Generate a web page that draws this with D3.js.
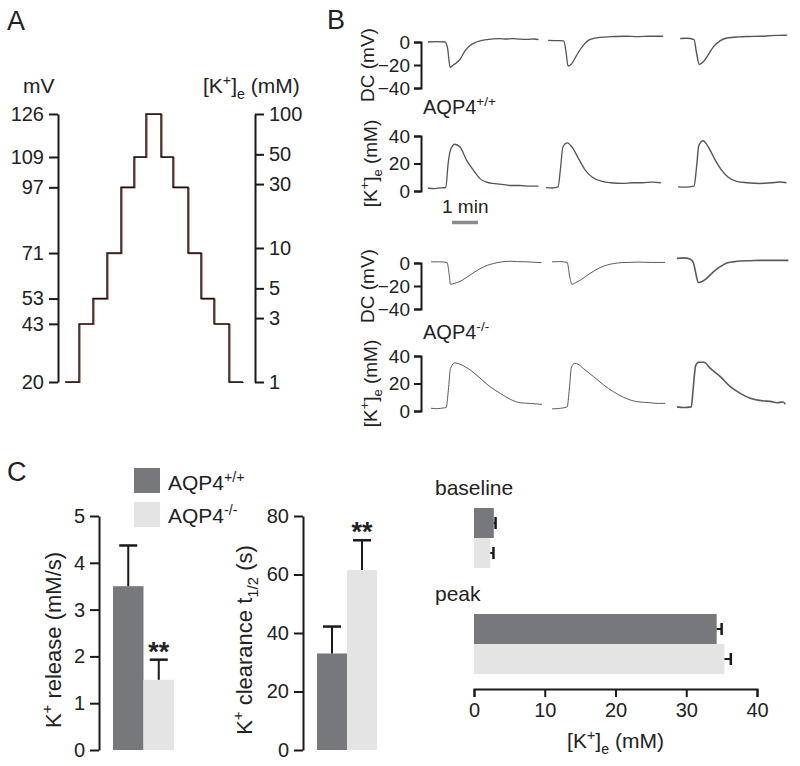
<!DOCTYPE html>
<html><head><meta charset="utf-8">
<script src="https://cdn.jsdelivr.net/npm/d3@7"></script>
<style>
body{margin:0;background:#fff}
text{font-family:"Liberation Sans",Arial,sans-serif;fill:#222}
</style>
</head><body><svg id="c" width="800" height="766"></svg>
<script>
// ---------- DATA ----------
// Panel A
const mvTicks = [20, 43, 53, 71, 97, 109, 126];
const kLogTicks = [1, 3, 5, 10, 30, 50, 100];
const stepTimes = [0, 14, 28, 42, 56, 69, 81, 96, 108, 123, 136, 149, 164, 178];
const stepMV = [20, 43, 53, 71, 97, 109, 126, 109, 97, 71, 53, 43, 20];

// Panel B (time in s, value)
const dcTicks = [0, -20, -40];
const kTicksB = [0, 20, 40];
const wtDC = [
  [[0,0],[20,0.3],[39,0],[45,-5],[51,-22],[58,-20],[66,-18],[74,-15],[85,-8],[97,-3],[112,0],[125,1.5],[135,2],[150,2.8],[166,3],[180,2.6],[195,3],[212,2.5],[230,2.3],[245,2.6],[255,2]],
  [[5,1.5],[25,1.2],[41,1],[46,-8],[51,-21],[59,-19],[70,-12],[86,-3],[101,2],[124,4],[150,4.6],[186,5],[210,4.7],[240,5],[270,5]],
  [[5,3],[20,3.2],[37,2],[43,-10],[49,-19.5],[59,-17],[70,-11],[82,-4],[97,1],[113,3.5],[140,4.5],[165,4.8],[190,5],[215,5.5],[235,5.8],[252,6]]
];
const wtK = [
  [[0,2],[15,1.8],[30,2.3],[41,2.5],[46.5,20],[52,30],[62,34],[74,32],[89,22.5],[105,15],[120,9],[135,6.5],[150,5.5],[166,5],[190,4],[212,4],[235,3.5],[255,3.5]],
  [[0,2.5],[15,2.2],[28,3],[33,15],[39,32],[49,35],[60,32],[76,23],[91,15],[107,10],[130,7],[150,6],[177,5.5],[200,6],[223,6],[245,6.5],[265,6]],
  [[0,3],[18,2.8],[37,3.5],[43,18],[48,33],[58,36.5],[70,32],[85,23],[101,15],[116,10],[135,7],[160,6],[189,5.5],[215,6],[235,6.5],[250,6]]
];
const koDC = [
  [[0,1],[20,1],[37,0.5],[42,-10],[45,-18.5],[55,-17.5],[67,-16],[78,-13.5],[90,-10.5],[113,-5],[130,-2],[144,-0.5],[160,0.8],[182,1.5],[200,1.2],[221,1],[240,0.6],[255,0.3]],
  [[0,1],[18,1.2],[35,0.5],[41,-12],[46,-18.5],[55,-17],[65,-15],[88,-9],[111,-4],[125,-2],[142,-0.5],[160,0.3],[173,0.5],[200,0.8],[230,0.5],[261,0.5]],
  [[0,4],[15,4.5],[26,4],[32,3],[38,0],[44,-10],[49,-17],[55,-16.5],[68,-13.5],[84,-7.7],[99,-3.4],[115,0],[130,1],[146,1.7],[170,2],[192,2.3],[225,2.3],[257,2.3]]
];
const koK = [
  [[0,2],[15,1.7],[28,2.2],[35,2.5],[40,15],[45,31],[55,35],[67,34],[80,32],[90,30],[113,24],[136,17.7],[160,12.8],[183,8.5],[206,6],[230,5.5],[256,4.8]],
  [[0,1.5],[15,1.8],[35,3],[40,16],[45,32],[53,34.7],[60,34],[72,31],[96,25],[119,19],[142,14],[165,10],[196,6.8],[227,6],[245,5.5],[261,5.6]],
  [[0,3],[15,2.5],[33,3],[37,15],[43,33],[50,35.5],[62,35.5],[77,31],[100,25],[123,17.7],[146,12.8],[169,9.2],[200,7.3],[215,7],[231,6],[245,6.5],[250,4.8]]
];

// Panel C
const genotypes = ["AQP4+/+", "AQP4-/-"];
const releaseMean = [3.5, 1.5];
const releaseErr = [0.87, 0.43];
const clearMean = [33, 61.5];
const clearErr = [9.2, 10.2];
const sigMarks = ["", "**"];
const releaseTicks = [0, 1, 2, 3, 4, 5];
const clearTicks = [0, 20, 40, 60, 80];
const concGroups = ["baseline", "peak"];
const baselineMean = [2.8, 2.3];
const baselineErr = [0.25, 0.45];
const peakMean = [34.3, 35.4];
const peakErr = [0.7, 0.9];
const concTicks = [0, 10, 20, 30, 40];

// ---------- HELPERS ----------
const svg = d3.select("#c");
svg.append("rect").attr("width", 800).attr("height", 766).attr("fill", "#fff");
const DARK = "#77787c", LIGHT = "#e4e4e4", INK = "#1a1a1a";

function rich(sel, parts, fs) {
  let cur = 0;
  parts.forEach(p => {
    const ts = sel.append("tspan").text(p[0]);
    let target = 0;
    if (p[1] === "sup") { ts.attr("font-size", fs * 0.68); target = -fs * 0.4; }
    else if (p[1] === "sub") { ts.attr("font-size", fs * 0.68); target = fs * 0.28; }
    if (target - cur !== 0) ts.attr("dy", target - cur);
    cur = target;
  });
  return sel;
}
function styleAxis(g, fs) {
  g.attr("font-size", null).attr("font-family", null);
  g.selectAll("path.domain").attr("stroke", INK).attr("stroke-width", 2);
  g.selectAll(".tick line").attr("stroke", INK).attr("stroke-width", 2);
  g.selectAll(".tick text").attr("font-size", fs).attr("fill", "#222");
}
function genoParts(g) { return [["AQP4"], [g.slice(4), "sup"]]; }
const fmtInt = d3.format("d");

// ---------- PANEL A ----------
svg.append("text").attr("x", 7).attr("y", 30).attr("font-size", 27).text("A");
const yA = d3.scaleLinear().domain([20, 126]).range([382, 114]);
const yAk = d3.scaleLog().domain([1, 100]).range([382, 114]);
const xA = d3.scaleLinear().domain([0, 178]).range([65, 243]);

const gAL = svg.append("g").attr("transform", "translate(58,0)")
  .call(d3.axisLeft(yA).tickValues(mvTicks).tickFormat(fmtInt).tickSize(9).tickSizeOuter(0).tickPadding(5));
styleAxis(gAL, 20);
const gAR = svg.append("g").attr("transform", "translate(255,0)")
  .call(d3.axisRight(yAk).tickValues(kLogTicks).tickFormat(fmtInt).tickSize(9).tickSizeOuter(0).tickPadding(5));
styleAxis(gAR, 20);
svg.append("text").attr("x", 23).attr("y", 93).attr("font-size", 21).text("mV");
rich(svg.append("text").attr("x", 203).attr("y", 93).attr("font-size", 21),
  [["[K"], ["+", "sup"], ["]"], ["e", "sub"], [" (mM)"]], 21);

const stepPts = stepTimes.map((t, i) => [t, stepMV[Math.min(i, stepMV.length - 1)]]);
const stepLine = d3.line().x(d => xA(d[0])).y(d => yA(d[1])).curve(d3.curveStepAfter);
svg.append("path").datum(stepPts).attr("d", stepLine).attr("fill", "none")
  .attr("stroke", "#b4503a").attr("stroke-width", 1.2).attr("transform", "translate(1,0.5)");
svg.append("path").datum(stepPts).attr("d", stepLine).attr("fill", "none")
  .attr("stroke", "#111").attr("stroke-width", 1.4);

// ---------- PANEL B ----------
svg.append("text").attr("x", 327).attr("y", 29).attr("font-size", 27).text("B");
const rows = [
  { data: wtDC, ticks: dcTicks, dom: [-40, 0], rng: [88, 42], origins: [428, 546, 678], label: "dc", w: [1.3, 1.3, 1.4], col: "#555" },
  { data: wtK, ticks: kTicksB, dom: [0, 40], rng: [191, 136], origins: [428, 546, 678], label: "k", w: [1.3, 1.3, 1.4], col: "#555" },
  { data: koDC, ticks: dcTicks, dom: [-40, 0], rng: [309, 263], origins: [431, 552, 677], label: "dc", w: [1, 1, 1.6], col: "#5a5a5a" },
  { data: koK, ticks: kTicksB, dom: [0, 40], rng: [411, 356], origins: [431, 552, 677], label: "k", w: [1, 1, 1.6], col: "#5a5a5a" }
];
rows.forEach(r => {
  const y = d3.scaleLinear().domain(r.dom).range(r.rng);
  const g = svg.append("g").attr("transform", "translate(421,0)")
    .call(d3.axisLeft(y).tickValues(r.ticks).tickFormat(fmtInt).tickSize(7).tickSizeOuter(7).tickPadding(4));
  styleAxis(g, 19);
  r.data.forEach((tr, i) => {
    const x = d3.scaleLinear().domain([0, 60]).range([r.origins[i], r.origins[i] + 26]);
    svg.append("path").datum(tr)
      .attr("d", d3.line().x(d => x(d[0])).y(d => y(d[1])).curve(d3.curveMonotoneX))
      .attr("fill", "none").attr("stroke", r.col).attr("stroke-width", r.w[i]).attr("stroke-linejoin", "round");
  });
  const cy = (r.rng[0] + r.rng[1]) / 2;
  const t = svg.append("text").attr("text-anchor", "middle").attr("font-size", 19)
    .attr("transform", `translate(${r.label === "dc" ? 374 : 377},${cy}) rotate(-90)`);
  if (r.label === "dc") t.text("DC (mV)");
  else rich(t, [["[K"], ["+", "sup"], ["]"], ["e", "sub"], [" (mM)"]], 19);
});
rich(svg.append("text").attr("x", 423).attr("y", 114).attr("font-size", 20), genoParts(genotypes[0]), 20);
rich(svg.append("text").attr("x", 423).attr("y", 339).attr("font-size", 20), genoParts(genotypes[1]), 20);
// scale bar 1 min
const xBar = d3.scaleLinear().domain([0, 60]).range([452, 478]);
svg.append("line").attr("x1", xBar(0)).attr("x2", xBar(60)).attr("y1", 222.5).attr("y2", 222.5)
  .attr("stroke", "#8a8a8a").attr("stroke-width", 3.5);
svg.append("text").attr("x", 442).attr("y", 213).attr("font-size", 19).text("1 min");

// ---------- PANEL C ----------
svg.append("text").attr("x", 7).attr("y", 481).attr("font-size", 27).text("C");
// legend
genotypes.forEach((g, i) => {
  svg.append("rect").attr("x", 134).attr("y", 468 + i * 34).attr("width", 26).attr("height", 25)
    .attr("fill", i === 0 ? DARK : LIGHT);
  rich(svg.append("text").attr("x", 168).attr("y", 490 + i * 33).attr("font-size", 21), genoParts(g), 21);
});

function vertBars(axisX, range, domain, ticks, means, errs, label, labelX) {
  const y = d3.scaleLinear().domain(domain).range([750, 516]);
  const x = d3.scaleBand().domain(genotypes).range(range).padding(0);
  const g = svg.append("g").attr("transform", `translate(${axisX},0)`)
    .call(d3.axisLeft(y).tickValues(ticks).tickFormat(fmtInt).tickSize(9).tickSizeOuter(0).tickPadding(5));
  styleAxis(g, 20);
  genotypes.forEach((gn, i) => {
    const cx = x(gn) + x.bandwidth() / 2;
    svg.append("rect").attr("x", x(gn)).attr("y", y(means[i])).attr("width", x.bandwidth())
      .attr("height", y(0) - y(means[i])).attr("fill", i === 0 ? DARK : LIGHT);
    svg.append("line").attr("x1", cx).attr("x2", cx).attr("y1", y(means[i])).attr("y2", y(means[i] + errs[i]))
      .attr("stroke", INK).attr("stroke-width", 2);
    svg.append("line").attr("x1", cx - 9).attr("x2", cx + 9).attr("y1", y(means[i] + errs[i])).attr("y2", y(means[i] + errs[i]))
      .attr("stroke", INK).attr("stroke-width", 2.5);
    if (sigMarks[i]) svg.append("text").attr("x", cx).attr("y", y(means[i] + errs[i]) + 1)
      .attr("text-anchor", "middle").attr("font-size", 27).attr("font-weight", "bold").text(sigMarks[i]);
  });
  const t = svg.append("text").attr("text-anchor", "middle").attr("font-size", 22)
    .attr("transform", `translate(${labelX},640) rotate(-90)`);
  rich(t, label, 22);
}
vertBars(99, [113, 174], [0, 5], releaseTicks, releaseMean, releaseErr,
  [["K"], ["+", "sup"], [" release (mM/s)"]], 61);
vertBars(303, [317, 377], [0, 80], clearTicks, clearMean, clearErr,
  [["K"], ["+", "sup"], [" clearance t"], ["1/2", "sub"], [" (s)"]], 252);

// horizontal bars
const xC = d3.scaleLinear().domain([0, 40]).range([474, 757]);
const gY = d3.scaleBand().domain(concGroups).range([508, 674]).paddingInner(0.434);
const sY = d3.scaleBand().domain(genotypes).range([0, gY.bandwidth()]);
const gx = svg.append("g").attr("transform", "translate(0,689)")
  .call(d3.axisBottom(xC).tickValues(concTicks).tickFormat(fmtInt).tickSize(8).tickSizeOuter(8).tickPadding(6));
styleAxis(gx, 20);
const concMeans = [baselineMean, peakMean], concErrs = [baselineErr, peakErr];
concGroups.forEach((grp, gi) => {
  svg.append("text").attr("x", 435).attr("y", gY(grp) - 13).attr("font-size", 21).text(grp);
  genotypes.forEach((gn, i) => {
    const y0 = gY(grp) + sY(gn), cy = y0 + sY.bandwidth() / 2;
    const m = concMeans[gi][i], e = concErrs[gi][i];
    svg.append("rect").attr("x", xC(0)).attr("y", y0).attr("width", xC(m) - xC(0))
      .attr("height", sY.bandwidth()).attr("fill", i === 0 ? DARK : LIGHT);
    svg.append("line").attr("x1", xC(m)).attr("x2", xC(m + e)).attr("y1", cy).attr("y2", cy)
      .attr("stroke", INK).attr("stroke-width", 2);
    svg.append("line").attr("x1", xC(m + e)).attr("x2", xC(m + e)).attr("y1", cy - 6).attr("y2", cy + 6)
      .attr("stroke", INK).attr("stroke-width", 2.5);
  });
});
rich(svg.append("text").attr("x", xC(20)).attr("y", 748).attr("text-anchor", "middle").attr("font-size", 21),
  [["[K"], ["+", "sup"], ["]"], ["e", "sub"], [" (mM)"]], 21);
</script></body></html>
